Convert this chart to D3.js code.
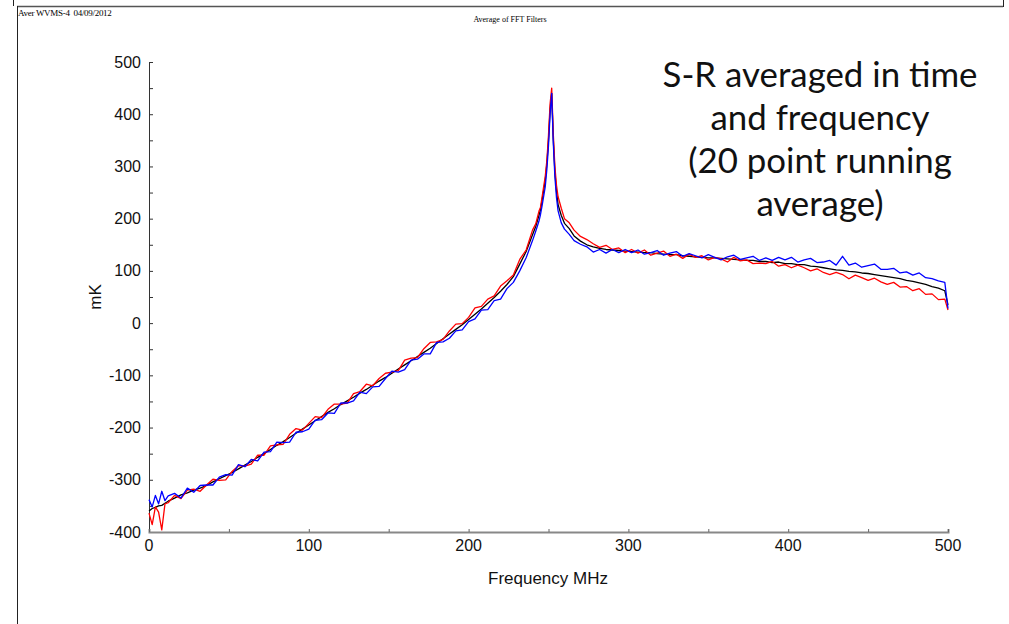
<!DOCTYPE html>
<html>
<head>
<meta charset="utf-8">
<script src="https://cdn.jsdelivr.net/npm/d3@7"></script>
<style>
  body { margin: 0; background: #fff; }
  svg { display: block; }
</style>
</head>
<body>
<svg id="chart" width="1009" height="624"></svg>
<script>
const width = 1009,
  height = 624;

// frequency (MHz), finer at the start and around the peak
const freq = [
  0, 2, 4, 6, 8, 10, 12, 16, 20, 24,
  28, 32, 36, 40, 44, 48, 52, 56, 60, 64,
  68, 72, 76, 80, 84, 88, 92, 96, 100, 104,
  108, 112, 116, 120, 124, 128, 132, 136, 140, 144,
  148, 152, 156, 160, 164, 168, 172, 176, 180, 184,
  188, 192, 196, 200, 204, 208, 212, 216, 220, 224,
  228, 232, 236, 240, 242, 244, 245, 246, 248, 249,
  250, 251, 252, 253, 254, 255, 256, 258, 260, 263,
  266, 270, 274, 278, 282, 286, 290, 294, 298, 302,
  306, 310, 314, 318, 322, 326, 330, 334, 338, 342,
  346, 350, 354, 358, 362, 366, 370, 374, 378, 382,
  386, 390, 394, 398, 402, 406, 410, 414, 418, 422,
  426, 430, 434, 438, 442, 446, 450, 454, 458, 462,
  466, 470, 474, 478, 482, 486, 490, 494, 498, 500,
];

const blackK = [
  -360, -355, -353, -350, -349, -345, -341, -335, -329, -325,
  -320, -316, -311, -304, -298, -292, -286, -279, -272, -265,
  -257, -250, -242, -234, -227, -219, -211, -203, -195, -187,
  -179, -171, -164, -156, -149, -142, -134, -127, -119, -111,
  -104, -96, -88, -80, -72, -64, -56, -48, -39, -30,
  -21, -12, -3, 7, 17, 27, 38, 49, 61, 74,
  89, 113, 137, 169, 185, 206, 217, 236, 274, 306,
  350, 410, 440, 352, 290, 252, 227, 206, 191, 181,
  167, 157, 150, 146, 143, 141, 140, 139, 138, 137,
  136, 135, 135, 133, 132, 131, 131, 129, 128, 127,
  126, 125, 125, 124, 123, 122, 121, 120, 120, 118,
  118, 116, 117, 114, 114, 112, 112, 109, 108, 106,
  104, 102, 101, 99, 98, 96, 95, 93, 91, 89,
  87, 85, 82, 80, 77, 74, 70, 67, 62, 35,
];

const redK = [
  -364, -386, -352, -362, -396, -346, -344, -330, -336, -320,
  -318, -322, -310, -299, -301, -300, -284, -273, -274, -270,
  -253, -253, -235, -233, -232, -213, -202, -205, -192, -179,
  -181, -165, -155, -155, -153, -135, -131, -117, -120, -106,
  -96, -94, -91, -71, -67, -66, -49, -37, -36, -31,
  -15, -2, -1, 11, 29, 32, 46, 52, 71, 81,
  92, 122, 140, 178, 190, 214, 222, 242, 282, 312,
  360, 420, 450, 362, 300, 264, 242, 220, 200, 192,
  178, 166, 160, 152, 145, 149, 141, 144, 135, 141,
  134, 140, 130, 134, 138, 128, 132, 124, 132, 126,
  129, 121, 126, 123, 117, 126, 119, 121, 114, 115,
  114, 118, 109, 112, 106, 111, 106, 100, 104, 97,
  93, 97, 93, 85, 92, 87, 82, 86, 79, 74,
  78, 69, 70, 62, 66, 55, 56, 45, 46, 25,
];

const blueK = [
  -338, -352, -330, -346, -322, -340, -331, -326, -335, -316,
  -324, -311, -310, -310, -295, -290, -291, -271, -275, -261,
  -264, -247, -246, -228, -229, -228, -209, -208, -203, -186,
  -185, -172, -173, -153, -153, -149, -132, -135, -122, -121,
  -106, -92, -94, -89, -71, -69, -59, -59, -37, -36,
  -29, -15, -13, 3, 8, 25, 26, 43, 46, 66,
  78, 100, 125, 158, 176, 195, 208, 225, 262, 295,
  340, 400, 440, 345, 280, 240, 215, 192, 180, 170,
  158, 151, 146, 136, 141, 134, 141, 135, 141, 135,
  140, 132, 135, 139, 130, 134, 137, 128, 133, 129,
  125, 131, 126, 121, 127, 130, 122, 125, 128, 120,
  125, 120, 126, 121, 126, 117, 121, 124, 116, 117,
  120, 111, 128, 111, 115, 107, 110, 113, 103, 103,
  105, 96, 98, 92, 96, 87, 85, 81, 78, 28,
];

const xTicks = [0, 100, 200, 300, 400, 500];
const yTicks = [-400, -300, -200, -100, 0, 100, 200, 300, 400, 500];
const noteLines = [
  "S-R averaged in time",
  "and frequency",
  "(20 point running",
  "average)",
];

const svg = d3.select("#chart");

const x = d3.scaleLinear().domain([0, 500]).range([149, 948]);
const y = d3.scaleLinear().domain([-400, 500]).range([532, 62]);

// page frame
svg.append("line").attr("x1", 17).attr("x2", 1003).attr("y1", 6.5).attr("y2", 6.5)
  .attr("stroke", "#555").attr("stroke-width", 1.5);
svg.append("line").attr("x1", 17.5).attr("x2", 17.5).attr("y1", 6).attr("y2", height)
  .attr("stroke", "#222");
svg.append("line").attr("x1", 13.5).attr("x2", 13.5).attr("y1", 0).attr("y2", 6)
  .attr("stroke", "#222");
svg.append("line").attr("x1", 1003.5).attr("x2", 1003.5).attr("y1", 0).attr("y2", 7)
  .attr("stroke", "#222");

svg.append("text")
  .attr("x", 18).attr("y", 16)
  .style("font-family", "Liberation Serif")
  .style("font-size", "9px")
  .style("letter-spacing", "-0.3px")
  .style("white-space", "pre")
  .text("Aver WVMS-4  04/09/2012");

svg.append("text")
  .attr("x", 510).attr("y", 22)
  .attr("text-anchor", "middle")
  .style("font-family", "Liberation Serif")
  .style("font-size", "8px")
  .style("fill", "#000")
  .text("Average of FFT Filters");

// axes
const yAxis = svg.append("g")
  .attr("transform", `translate(${x(0)},0)`)
  .call(d3.axisLeft(y).tickValues(d3.range(-400, 501, 50)).tickSize(-4).tickFormat(""));
yAxis.select(".domain").attr("stroke", "#333");
yAxis.selectAll(".tick line").attr("stroke", "#333");

const xAxis = svg.append("g")
  .attr("transform", `translate(0,${y(-400)})`)
  .call(d3.axisBottom(x).tickValues(d3.range(0, 501, 50)).tickSize(-3).tickFormat(""));
xAxis.select(".domain").attr("stroke", "#888").attr("stroke-width", 2);
xAxis.selectAll(".tick line").attr("stroke", "#666");

svg.selectAll(".ylab")
  .data(yTicks)
  .join("text")
  .attr("class", "ylab")
  .attr("x", 141)
  .attr("y", (d) => y(d))
  .attr("dy", "0.35em")
  .attr("text-anchor", "end")
  .style("font-family", "Liberation Sans")
  .style("font-size", "16px")
  .style("fill", "#111")
  .text((d) => d);

svg.selectAll(".xlab")
  .data(xTicks)
  .join("text")
  .attr("class", "xlab")
  .attr("x", (d) => x(d))
  .attr("y", 551)
  .attr("text-anchor", "middle")
  .style("font-family", "Liberation Sans")
  .style("font-size", "16px")
  .style("fill", "#111")
  .text((d) => d);

svg.append("text")
  .attr("x", 548).attr("y", 584)
  .attr("text-anchor", "middle")
  .style("font-family", "Liberation Sans")
  .style("font-size", "17px")
  .style("fill", "#111")
  .text("Frequency MHz");

svg.append("text")
  .attr("transform", "translate(101,297) rotate(-90)")
  .attr("text-anchor", "middle")
  .style("font-family", "Liberation Sans")
  .style("font-size", "17px")
  .style("fill", "#111")
  .text("mK");

// traces
const line = d3.line()
  .x((d) => x(d[0]))
  .y((d) => y(d[1]));

const series = [
  { values: blackK, color: "#000" },
  { values: redK, color: "#f00" },
  { values: blueK, color: "#00f" },
];

svg.selectAll(".trace")
  .data(series)
  .join("path")
  .attr("class", "trace")
  .attr("fill", "none")
  .attr("stroke", (d) => d.color)
  .attr("stroke-width", 1.3)
  .attr("stroke-linejoin", "round")
  .attr("d", (d) => line(freq.map((f, i) => [f, d.values[i]])));

// annotation
const note = svg.append("g")
  .style("font-family", "Lato, 'Open Sans', sans-serif")
  .style("font-size", "32px")
  .style("fill", "#111");

note.selectAll("text")
  .data(noteLines)
  .join("text")
  .attr("x", 820)
  .attr("y", (d, i) => 87 + i * 43)
  .attr("text-anchor", "middle")
  .text((d) => d);

// fit the first line to the width it has in the picture
const w0 = note.select("text").node().getComputedTextLength();
note.style("font-size", (32 * 315) / w0 + "px");
</script>
</body>
</html>
